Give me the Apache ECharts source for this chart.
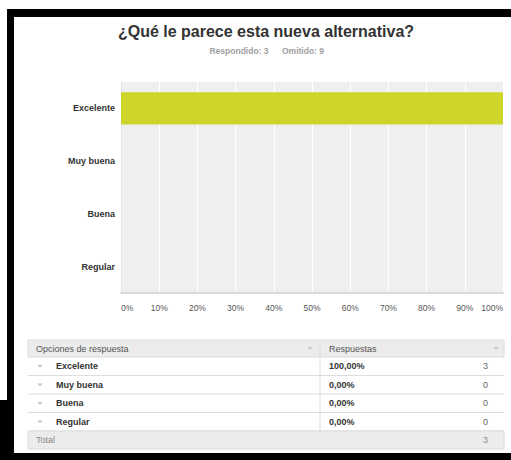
<!DOCTYPE html>
<html>
<head>
<meta charset="utf-8">
<script src="https://cdn.jsdelivr.net/npm/echarts@6/dist/echarts.min.js"></script>
<style>
html,body{margin:0;padding:0;background:#fff;}
#chart{width:511px;height:460px;}
</style>
</head>
<body>
<div id="chart"></div>
<script>
var titleText = '¿Qué le parece esta nueva alternativa?';
var answered = 3;
var skipped = 9;
var categories = ['Excelente', 'Muy buena', 'Buena', 'Regular'];
var percents = [100, 0, 0, 0];
var counts = [3, 0, 0, 0];
var xTicks = [0, 10, 20, 30, 40, 50, 60, 70, 80, 90, 100];

var FONT = '"Liberation Sans", Arial, Helvetica, sans-serif';
var chart = echarts.init(document.getElementById('chart'), null, {renderer: 'svg'});

function fmtPct(v) { return v.toFixed(2).replace('.', ',') + '%'; }
function arrow(cx, cy) {
  return {type:'polygon', shape:{points:[[cx-3,cy-1.2],[cx+3,cy-1.2],[cx,cy+1.5]]}, style:{fill:'#c6c6c6'}};
}

var g = [];
// frame
g.push({type:'rect', shape:{x:7,y:9,width:504,height:8}, style:{fill:'#000'}});
g.push({type:'rect', shape:{x:7,y:9,width:7,height:451}, style:{fill:'#000'}});
g.push({type:'rect', shape:{x:0,y:400,width:14,height:60}, style:{fill:'#000'}});
g.push({type:'rect', shape:{x:0,y:453,width:511,height:7}, style:{fill:'#000'}});
// title
g.push({type:'text', x:266, y:31, style:{text:titleText, fill:'#333', font:'bold 16px ' + FONT, align:'center', verticalAlign:'middle'}});
g.push({type:'text', x:239, y:51, style:{text:'Respondido: ' + answered, fill:'#a0a0a0', font:'bold 8.5px ' + FONT, align:'center', verticalAlign:'middle'}});
g.push({type:'text', x:303, y:51, style:{text:'Omitido: ' + skipped, fill:'#a0a0a0', font:'bold 8.5px ' + FONT, align:'center', verticalAlign:'middle'}});

// table
var tx0 = 28, tx1 = 504, tdiv = 320;
var hy0 = 340, hy1 = 357, rowH = 18.5;
var total = counts.reduce(function(a,b){return a+b;}, 0);
g.push({type:'rect', shape:{x:tx0,y:hy0,width:tx1-tx0,height:hy1-hy0}, style:{fill:'#ececec', stroke:'#dcdcdc', lineWidth:1}});
g.push({type:'text', x:36, y:(hy0+hy1)/2, style:{text:'Opciones de respuesta', fill:'#555', font:'9px ' + FONT, verticalAlign:'middle'}});
g.push(arrow(310, (hy0+hy1)/2));
g.push({type:'text', x:329, y:(hy0+hy1)/2, style:{text:'Respuestas', fill:'#555', font:'9px ' + FONT, verticalAlign:'middle'}});
g.push(arrow(496, (hy0+hy1)/2));
categories.forEach(function(c, i) {
  var y0 = hy1 + i * rowH, yc = y0 + rowH / 2;
  g.push({type:'line', shape:{x1:tx0,y1:y0+rowH,x2:tx1,y2:y0+rowH}, style:{stroke:'#dedede', lineWidth:1}});
  g.push(arrow(40, yc));
  g.push({type:'text', x:56, y:yc, style:{text:c, fill:'#333', font:'bold 9px ' + FONT, verticalAlign:'middle'}});
  g.push({type:'text', x:329, y:yc, style:{text:fmtPct(percents[i]), fill:'#333', font:'bold 9px ' + FONT, verticalAlign:'middle'}});
  g.push({type:'text', x:488, y:yc, style:{text:String(counts[i]), fill:'#666', font:'9px ' + FONT, align:'right', verticalAlign:'middle'}});
});
var ty0 = hy1 + categories.length * rowH;
g.push({type:'line', shape:{x1:tdiv,y1:hy0,x2:tdiv,y2:ty0}, style:{stroke:'#dcdcdc', lineWidth:1}});
g.push({type:'rect', shape:{x:tx0,y:ty0,width:tx1-tx0,height:18}, style:{fill:'#ececec', stroke:'#dcdcdc', lineWidth:1}});
g.push({type:'text', x:36, y:ty0+9, style:{text:'Total', fill:'#888', font:'9px ' + FONT, verticalAlign:'middle'}});
g.push({type:'text', x:488, y:ty0+9, style:{text:String(total), fill:'#888', font:'9px ' + FONT, align:'right', verticalAlign:'middle'}});

chart.setOption({
  backgroundColor: '#fff',
  animation: false,
  textStyle: {fontFamily: FONT},
  grid: {left: 121, right: 8, top: 82, bottom: 167, show: true, backgroundColor: '#efefef', borderWidth: 0, containLabel: false},
  xAxis: {
    type: 'value', min: xTicks[0], max: xTicks[xTicks.length-1], interval: xTicks[1]-xTicks[0],
    axisLine: {show: true, lineStyle: {color: '#dadada', width: 2}},
    axisTick: {show: false},
    splitLine: {show: true, lineStyle: {color: '#ffffff', width: 1}},
    axisLabel: {formatter: '{value}%', color: '#555', fontSize: 8.5, fontFamily: FONT, margin: 10, alignMinLabel: 'left', alignMaxLabel: 'right'}
  },
  yAxis: {
    type: 'category', data: categories, inverse: true,
    axisLine: {show: true, lineStyle: {color: '#e2e2e2', width: 1}},
    axisTick: {show: false},
    splitLine: {show: false},
    axisLabel: {color: '#333', fontSize: 9, fontWeight: 'bold', fontFamily: FONT, margin: 6}
  },
  series: [{
    type: 'bar', data: percents, barWidth: '61%',
    itemStyle: {color: '#ced52a'}
  }],
  graphic: {elements: g}
});
</script>
</body>
</html>
